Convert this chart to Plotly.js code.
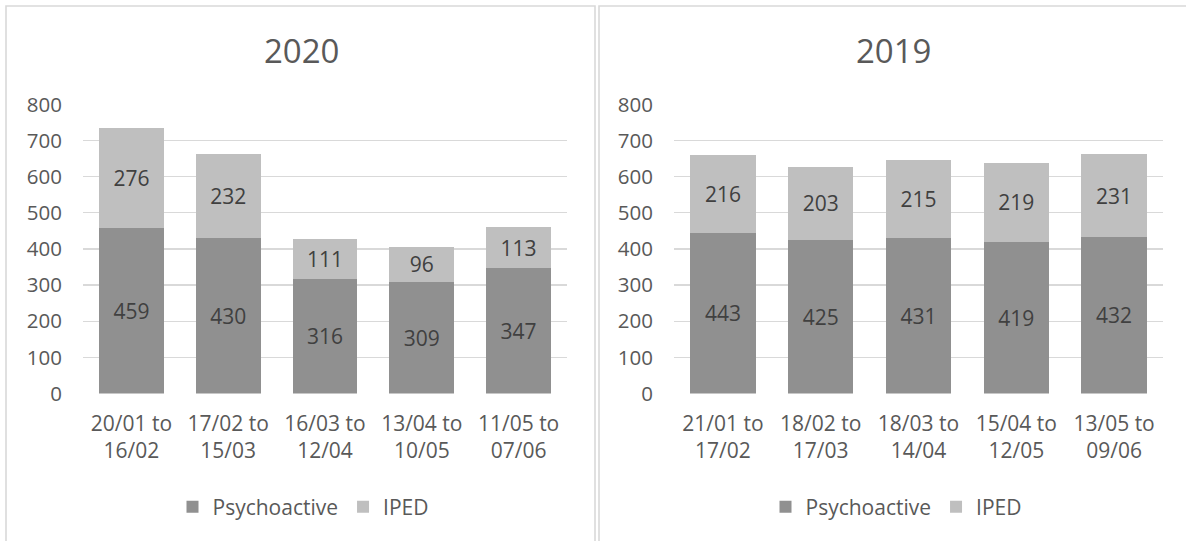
<!DOCTYPE html>
<html>
<head>
<meta charset="utf-8">
<script src="https://cdn.plot.ly/plotly-3.0.1.min.js"></script>
<style>
  html, body { margin: 0; padding: 0; background: #ffffff; }
  #chart { width: 1186px; height: 541px; }
</style>
</head>
<body>
<div id="chart"></div>
<script>
// ---- Data ----
const categories2020 = ["20/01 to<br>16/02", "17/02 to<br>15/03", "16/03 to<br>12/04", "13/04 to<br>10/05", "11/05 to<br>07/06"];
const psychoactive2020 = [459, 430, 316, 309, 347];
const iped2020 = [276, 232, 111, 96, 113];

const categories2019 = ["21/01 to<br>17/02", "18/02 to<br>17/03", "18/03 to<br>14/04", "15/04 to<br>12/05", "13/05 to<br>09/06"];
const psychoactive2019 = [443, 425, 431, 419, 432];
const iped2019 = [216, 203, 215, 219, 231];

const panelTitles = ["2020", "2019"];
const seriesNames = ["Psychoactive", "IPED"];
const yTicks = [0, 100, 200, 300, 400, 500, 600, 700, 800];

// ---- Style ----
const W = 1186, H = 541;
const FONT = "Open Sans, Noto Sans, sans-serif";
const darkGrey = "#909090";
const lightGrey = "#BFBFBF";
const textGrey = "#595959";
const labelGrey = "#404040";
const gridGrey = "#D9D9D9";
const px = v => v / W;
const py = v => 1 - v / H;

function barTrace(x, y, name, color, xa, ya, legend, showlegend) {
  return {
    type: "bar", x: x, y: y, name: name,
    xaxis: xa, yaxis: ya, legend: legend, showlegend: showlegend,
    marker: { color: color },
    text: y.map(String), textposition: "inside", insidetextanchor: "middle",
    textangle: 0, constraintext: "none",
    textfont: { family: FONT, size: 21, color: labelGrey },
    hoverinfo: "x+y+name"
  };
}

const traces = [
  barTrace(categories2020, psychoactive2020, seriesNames[0], darkGrey, "x", "y", "legend", true),
  barTrace(categories2020, iped2020, seriesNames[1], lightGrey, "x", "y", "legend", true),
  barTrace(categories2019, psychoactive2019, seriesNames[0], darkGrey, "x2", "y2", "legend2", true),
  barTrace(categories2019, iped2019, seriesNames[1], lightGrey, "x2", "y2", "legend2", true)
];

function xAxis(domain, anchor) {
  return {
    domain: domain, anchor: anchor, type: "category",
    showgrid: false, zeroline: false, showline: false, ticks: "",
    tickfont: { family: FONT, size: 21, color: textGrey },
    ticklabelstandoff: 15, fixedrange: true
  };
}
function yAxis(domain, anchor) {
  return {
    domain: domain, anchor: anchor, range: [0, 801],
    tickvals: yTicks, ticktext: yTicks.map(String),
    showgrid: true, gridcolor: gridGrey, gridwidth: 1.3,
    zeroline: false, showline: false, ticks: "",
    tickfont: { family: FONT, size: 20.5, color: textGrey },
    ticklabelstandoff: 20, fixedrange: true
  };
}

const yDom = [1 - 393.5 / H, 1 - 104 / H];

const legendBase = {
  orientation: "h", xanchor: "center", yanchor: "middle", y: py(507),
  font: { family: FONT, size: 21, color: textGrey },
  traceorder: "normal", bgcolor: "rgba(0,0,0,0)", itemwidth: 30
};

const layout = {
  width: W, height: H,
  margin: { l: 0, r: 0, t: 0, b: 0 },
  paper_bgcolor: "#ffffff", plot_bgcolor: "#ffffff",
  barmode: "stack", bargap: 0.33,
  font: { family: FONT, color: textGrey },
  xaxis: xAxis([px(83), px(567)], "y"),
  yaxis: yAxis(yDom, "x"),
  xaxis2: xAxis([px(674), px(1163)], "y2"),
  yaxis2: yAxis(yDom, "x2"),
  legend: Object.assign({}, legendBase, { x: px(303) }),
  legend2: Object.assign({}, legendBase, { x: px(896) }),
  annotations: [
    { text: panelTitles[0], xref: "paper", yref: "paper", x: px(302), y: py(50),
      xanchor: "center", yanchor: "middle", showarrow: false,
      font: { family: FONT, size: 33, color: textGrey } },
    { text: panelTitles[1], xref: "paper", yref: "paper", x: px(893), y: py(50),
      xanchor: "center", yanchor: "middle", showarrow: false,
      font: { family: FONT, size: 33, color: textGrey } }
  ],
  shapes: [
    { type: "rect", xref: "paper", yref: "paper", x0: px(6), x1: px(595), y0: -0.1, y1: py(6),
      line: { color: gridGrey, width: 1.6 }, fillcolor: "rgba(0,0,0,0)", layer: "below" },
    { type: "rect", xref: "paper", yref: "paper", x0: px(599), x1: 1.05, y0: -0.1, y1: py(6),
      line: { color: gridGrey, width: 1.6 }, fillcolor: "rgba(0,0,0,0)", layer: "below" }
  ]
};

Plotly.newPlot("chart", traces, layout, { displayModeBar: false, staticPlot: true });
</script>
</body>
</html>
